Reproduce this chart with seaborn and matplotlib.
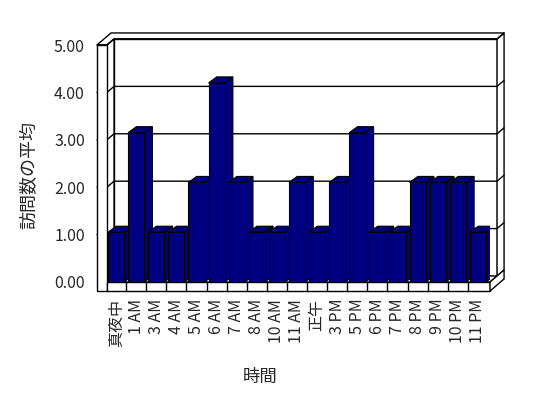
import matplotlib
matplotlib.use("Agg")
import matplotlib.pyplot as plt
import seaborn as sns
import pandas as pd
from matplotlib.patches import Polygon

# chart data
hours = ["真夜中", "1 AM", "3 AM", "4 AM", "5 AM", "6 AM", "7 AM", "8 AM", "10 AM", "11 AM",
         "正午", "3 PM", "5 PM", "6 PM", "7 PM", "8 PM", "9 PM", "10 PM", "11 PM"]
avg_visits = [1.05, 3.15, 1.05, 1.05, 2.1, 4.2, 2.1, 1.05, 1.05, 2.1,
              1.05, 2.1, 3.15, 1.05, 1.05, 2.1, 2.1, 2.1, 1.05]
y_ticks = [0, 1, 2, 3, 4, 5]
y_tick_labels = ["0.00", "1.00", "2.00", "3.00", "4.00", "5.00"]

sns.set_style("white")
plt.rcParams["font.family"] = ["Noto Sans CJK JP", "DejaVu Sans"]

df = pd.DataFrame({"時間": hours, "訪問数の平均": avg_visits})

W, H = 548, 398
fig = plt.figure(figsize=(W / 100, H / 100), dpi=100)
ax = fig.add_axes([107 / W, (H - 282) / H, 383 / W, 237 / H])

sns.barplot(data=df, x="時間", y="訪問数の平均", color="#000080", saturation=1,
            width=0.8, edgecolor="black", linewidth=0.8, ax=ax)
bars = list(ax.patches)

x0, x1 = -0.45, 18.6
y0, y1 = 0, 5
ax.set_xlim(x0, x1)
ax.set_ylim(y0, y1)

# depth offsets (data units) for the fake 3D look
dx, dy = 0.35, 0.127
bdx = 0.41
lw_wall = 0.5     # left wall thickness
ft = 0.19         # floor slab thickness

wall = dict(facecolor="white", edgecolor="black", linewidth=1, clip_on=False)
line = dict(color="black", linewidth=1, clip_on=False, zorder=2)

# back wall, its right end, top rim
ax.add_patch(Polygon([(x0 + dx, y0 + dy), (x1 + dx, y0 + dy), (x1 + dx, y1 + dy), (x0 + dx, y1 + dy)], zorder=1, **wall))
ax.add_patch(Polygon([(x1 + dx, y0 + dy), (x1 + 2 * dx, y0 + 2 * dy), (x1 + 2 * dx, y1 + 2 * dy), (x1 + dx, y1 + dy)], zorder=1, **wall))
ax.add_patch(Polygon([(x0 - lw_wall, y1), (x0, y1), (x0 + dx, y1 + dy), (x1 + dx, y1 + dy),
                      (x1 + 2 * dx, y1 + 2 * dy), (x0 - lw_wall + 2 * dx, y1 + 2 * dy)], zorder=1, **wall))
# left wall
ax.add_patch(Polygon([(x0, y0), (x0 + dx, y0 + dy), (x0 + dx, y1 + dy), (x0, y1)], zorder=1, **wall))
ax.add_patch(Polygon([(x0 - lw_wall, y0 - ft), (x0, y0 - ft), (x0, y1), (x0 - lw_wall, y1)], zorder=3, **wall))

# gridlines across the walls
for t in y_ticks[1:]:
    ax.plot([x0 - lw_wall, x0, x0 + dx, x1 + dx, x1 + 2 * dx],
            [t, t, t + dy, t + dy, t + 2 * dy], **line)

# floor slab
ax.add_patch(Polygon([(x0, y0), (x1, y0), (x1 + dx, y0 + dy), (x0 + dx, y0 + dy)], zorder=2, **wall))
ax.add_patch(Polygon([(x0, y0 - ft), (x1, y0 - ft), (x1, y0), (x0, y0)], zorder=3, **wall))
ax.add_patch(Polygon([(x1, y0 - ft), (x1, y0), (x1 + dx, y0 + dy), (x1 + 2 * dx, y0 + 2 * dy),
                      (x1 + 2 * dx, y0 - ft + 2 * dy)], zorder=3, **wall))
for i in range(len(hours) - 1):
    ax.plot([i + 0.5, i + 0.5], [y0 - ft, y0], color="black", linewidth=1, clip_on=False, zorder=4)

# bar tops and sides
for i, p in enumerate(bars):
    bx, bw, bh = p.get_x(), p.get_width(), p.get_height()
    z = 5 + i * 0.1
    p.set_zorder(z + 0.05)
    face = dict(facecolor="#000080", edgecolor="black", linewidth=0.8, zorder=z)
    ax.add_patch(Polygon([(bx, bh), (bx + bw, bh), (bx + bw + bdx, bh + dy), (bx + bdx, bh + dy)], **face))
    ax.add_patch(Polygon([(bx + bw, 0), (bx + bw + bdx, dy), (bx + bw + bdx, bh + dy), (bx + bw, bh)], **face))

for s in ax.spines.values():
    s.set_visible(False)
ax.grid(False)
ax.set_xticks(range(len(hours)), hours, rotation=90)
ax.set_yticks(y_ticks, y_tick_labels)
ax.tick_params(axis="x", length=0, pad=12, labelsize=11.5)
ax.tick_params(axis="y", length=0, pad=16, labelsize=11.5)
ax.set_xlabel("")
ax.set_ylabel("")

fig.text(29 / W, 1 - 175 / H, "訪問数の平均", rotation=90, ha="center", va="center", fontsize=13)
fig.text(260 / W, 1 - 377 / H, "時間", ha="center", va="center", fontsize=12.5)

fig.savefig("out.png", dpi=100)
